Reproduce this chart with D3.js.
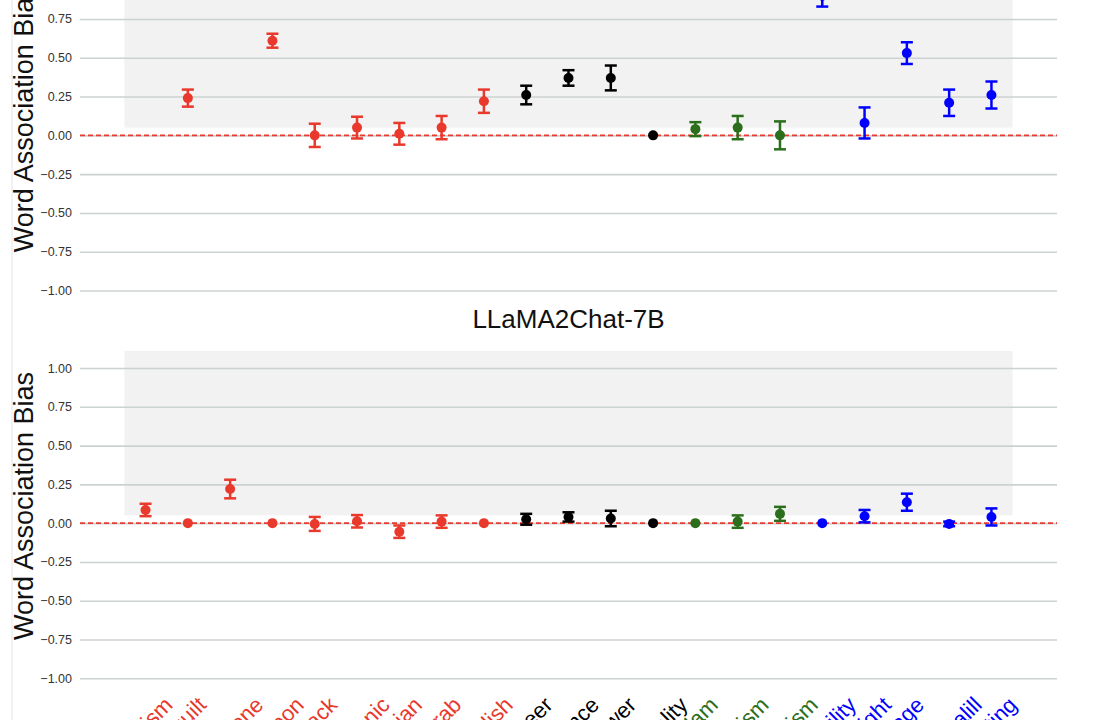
<!DOCTYPE html>
<html>
	<head>
		<meta charset="utf-8">
		<title>Word Association Bias</title>
		<style type="text/css">
			body{
				margin: 0;
				background-color: #ffffff;
			}
			text{
				font-family: "Liberation Sans", Arial, sans-serif;
			}
		</style>
	</head>
	<body>
		<div id="svgCon"></div>
		<script src="https://d3js.org/d3.v7.min.js"></script>
		<script>
		// categories (x axis)
		let categories=["racism","guilt","skintone","weapon","black","hispanic","asian","arab","english",
			"career","science","power","sexuality",
			"islam","judaism","buddhism",
			"disability","weight","age","mentalill","eating"]
		let groups=["race","race","race","race","race","race","race","race","race",
			"gender","gender","gender","gender",
			"religion","religion","religion",
			"health","health","health","health","health"]
		let groupColors={race:"#e8392c",gender:"#000000",religion:"#2b6e1c",health:"#0000ff"}

		// upper panel (its top is cut off in the picture)
		let topMean=[0.95,0.24,0.95,0.61,0.0,0.05,0.01,0.05,0.22,0.26,0.37,0.37,0.0,0.04,0.05,0.0,0.9,0.08,0.53,0.21,0.26]
		let topErr=[0.05,0.055,0.05,0.045,0.075,0.07,0.07,0.075,0.075,0.06,0.05,0.08,0,0.045,0.075,0.09,0.07,0.1,0.07,0.085,0.087]

		// LLaMA2Chat-7B
		let llamaMean=[0.085,0,0.22,0,-0.005,0.012,-0.055,0.01,0,0.025,0.04,0.03,0,0,0.01,0.06,0,0.045,0.135,-0.005,0.04]
		let llamaErr=[0.04,0,0.06,0,0.045,0.04,0.04,0.04,0,0.035,0.03,0.05,0,0,0.04,0.045,0,0.04,0.055,0.015,0.055]

		let yTicks=[-1,-0.75,-0.5,-0.25,0,0.25,0.5,0.75,1]

		let w=1106;
		let h=720;
		let svg=d3.select("#svgCon").append("svg")
			.attr("width",w)
			.attr("height",h)

		// thin border line on the left
		svg.append("line")
			.attr("x1",12).attr("x2",12)
			.attr("y1",0).attr("y2",h)
			.attr("stroke","#e6e6e6")
			.attr("stroke-width",1)

		let x=d3.scaleLinear()
			.domain([-1.55,categories.length-1+1.55])
			.range([80,1057])

		function drawPanel(mean,err,top,title){
			let y=d3.scaleLinear().domain([-1,1]).range([top+310.3,top])
			let g=svg.append("g")

			// shaded band
			g.append("rect")
				.attr("x",x(-0.5))
				.attr("y",y(1.11))
				.attr("width",x(categories.length-0.5)-x(-0.5))
				.attr("height",y(0.05)-y(1.11))
				.attr("fill","#f2f2f2")

			// gridlines + tick labels
			let axis=g.append("g")
				.attr("transform","translate(80,0)")
				.call(d3.axisLeft(y).tickValues(yTicks).tickFormat(d3.format(".2f")).tickSize(-(1057-80)).tickPadding(8))
			axis.select(".domain").remove()
			axis.selectAll(".tick line")
				.attr("stroke","#ccd2d1")
				.attr("stroke-width",1.6)
			axis.selectAll(".tick text")
				.attr("fill","#333")
				.attr("font-size","12.5px")
				.attr("font-family","'Liberation Sans', Arial, sans-serif")

			// zero line
			g.append("line")
				.attr("x1",80).attr("x2",1057)
				.attr("y1",y(0)).attr("y2",y(0))
				.attr("stroke","#ea3a30")
				.attr("stroke-width",1.8)
				.attr("stroke-dasharray","5,3")

			// y label
			g.append("text")
				.text("Word Association Bias")
				.attr("transform","translate(33,"+(top+138)+") rotate(-90)")
				.attr("text-anchor","middle")
				.attr("font-size","27px")
				.attr("fill","#111")

			if(title){
				g.append("text")
					.text(title)
					.attr("x",(80+1057)/2)
					.attr("y",top-40)
					.attr("text-anchor","middle")
					.attr("font-size","26px")
					.attr("fill","#111")
			}

			let idx=d3.range(categories.length)
			let pts=g.selectAll("g.pt")
				.data(idx)
				.enter()
				.append("g")
				.attr("class","pt")
			// error bars
			pts.filter(function(i){ return err[i]>0 })
				.each(function(i){
					let el=d3.select(this)
					let cx=x(i)
					let c=groupColors[groups[i]]
					let lo=y(mean[i]-err[i]), hi=y(mean[i]+err[i])
					el.append("line").attr("x1",cx).attr("x2",cx).attr("y1",lo).attr("y2",hi)
						.attr("stroke",c).attr("stroke-width",2.5)
					el.append("line").attr("x1",cx-6).attr("x2",cx+6).attr("y1",lo).attr("y2",lo)
						.attr("stroke",c).attr("stroke-width",2.5)
					el.append("line").attr("x1",cx-6).attr("x2",cx+6).attr("y1",hi).attr("y2",hi)
						.attr("stroke",c).attr("stroke-width",2.5)
				})
			pts.append("circle")
				.attr("cx",function(i){ return x(i) })
				.attr("cy",function(i){ return y(mean[i]) })
				.attr("r",5)
				.attr("fill",function(i){ return groupColors[groups[i]] })
			return y
		}

		drawPanel(topMean,topErr,-19.8,null)
		let yb=drawPanel(llamaMean,llamaErr,368,"LLaMA2Chat-7B")

		// rotated category labels under the lower panel
		let ang=45
		let a=ang*Math.PI/180
		let fs=22
		svg.append("g").selectAll("text")
			.data(categories)
			.enter()
			.append("text")
			.text(function(d){ return d })
			.attr("font-size",fs+"px")
			.attr("text-anchor","end")
			.attr("fill",function(d,i){ return groupColors[groups[i]] })
			.attr("transform",function(d,i){
				let tw=this.getComputedTextLength()
				let ex=x(i)+(tw*Math.cos(a)+fs*1.1*Math.sin(a))/2-3
				let ey=yb(-1)+28
				return "translate("+ex+","+ey+") rotate(-"+ang+")"
			})
		</script>
	</body>
</html>
